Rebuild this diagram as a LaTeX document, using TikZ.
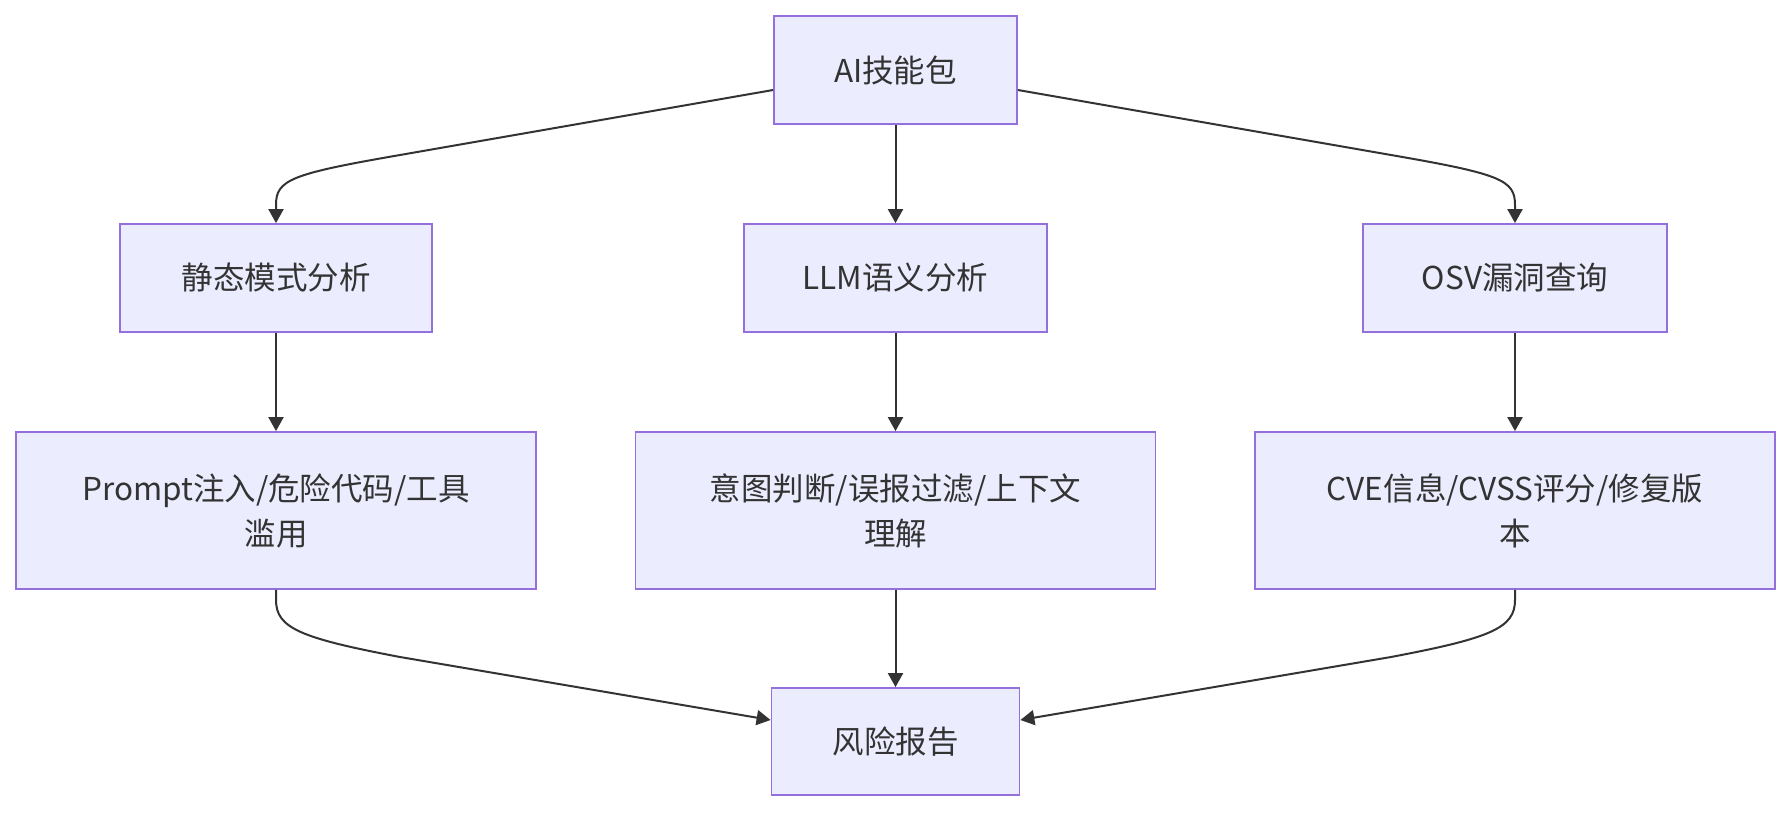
\documentclass[tikz,border=0pt]{standalone}
\usepackage{fontspec}
\setmainfont{Noto Sans CJK SC}
\usetikzlibrary{arrows.meta}
\definecolor{boxfill}{HTML}{ECECFF}
\definecolor{boxline}{HTML}{9370DB}
\definecolor{edgecol}{HTML}{333333}
\begin{document}
\begin{tikzpicture}[x=1pt,y=-1pt,
  box/.style={draw=boxline, fill=boxfill, line width=1.8pt, inner sep=0pt,
    text=edgecol, align=center, font=\fontsize{31.5}{45}\selectfont},
  edge/.style={draw=edgecol, line width=2pt, -{Triangle[length=14pt,width=15pt]}}]
\useasboundingbox (0,0) rectangle (1792,812);
\node[box, minimum width=243pt, minimum height=108pt] (A) at (895.5,70) {AI技能包};
\node[box, minimum width=312pt, minimum height=108pt] (B1) at (276,278) {静态模式分析};
\node[box, minimum width=303pt, minimum height=108pt] (B2) at (895.5,278) {LLM语义分析};
\node[box, minimum width=304pt, minimum height=108pt] (B3) at (1515,278) {OSV漏洞查询};
\node[box, minimum width=520pt, minimum height=157pt] (C1) at (276,510.5) {Prompt注入/危险代码/工具\\滥用};
\node[box, minimum width=520pt, minimum height=157pt] (C2) at (895.5,510.5) {意图判断/误报过滤/上下文\\理解};
\node[box, minimum width=520pt, minimum height=157pt] (C3) at (1515,510.5) {CVE信息/CVSS评分/修复版\\本};
\node[box, minimum width=248pt, minimum height=107pt] (D) at (895.5,741.5) {风险报告};
% top fan-out
\draw[edge] ([yshift=-20pt]A.west) -- (400,155) .. controls (290,174) and (276,180) .. (276,205) -- (B1.north);
\draw[edge] ([yshift=-20pt]A.east) -- (1391,155) .. controls (1501,174) and (1515,180) .. (1515,205) -- (B3.north);
\draw[edge] (A.south) -- (B2.north);
% middle
\draw[edge] (B1.south) -- (C1.north);
\draw[edge] (B2.south) -- (C2.north);
\draw[edge] (B3.south) -- (C3.north);
% bottom fan-in
\draw[edge] (C1.south) -- (276,600) .. controls (276,628) and (300,638) .. (400,657) -- ([yshift=21.5pt]D.west);
\draw[edge] (C3.south) -- (1515,600) .. controls (1515,628) and (1491,638) .. (1391,657) -- ([yshift=21.5pt]D.east);
\draw[edge] (C2.south) -- (D.north);
\end{tikzpicture}
\end{document}
